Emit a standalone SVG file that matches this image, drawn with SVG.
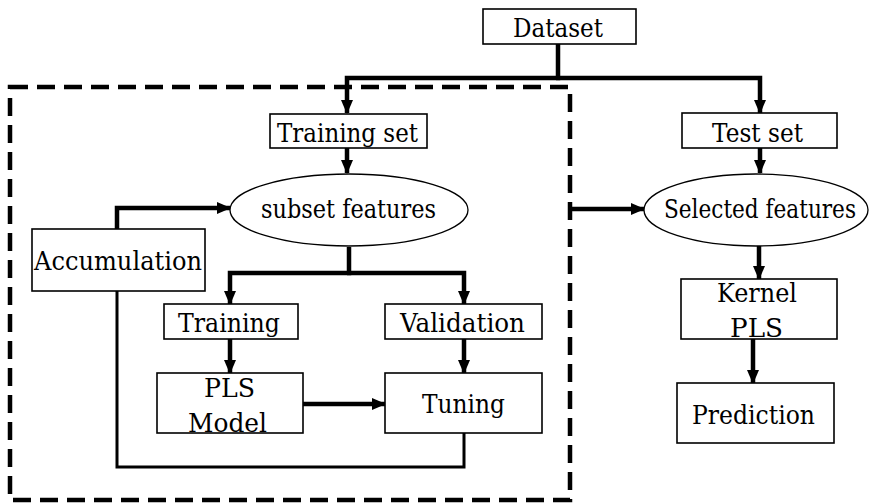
<svg xmlns="http://www.w3.org/2000/svg" width="880" height="504" viewBox="0 0 880 504">
<defs>
<marker id="ah" markerUnits="userSpaceOnUse" markerWidth="14" markerHeight="14" viewBox="0 0 14 14" refX="13" refY="7" orient="auto">
<path d="M0,1 L14,7 L0,13 z" fill="#000"/>
</marker>
<style>
.box{fill:#fff;stroke:#000;stroke-width:1.6}
.ell{fill:#fff;stroke:#000;stroke-width:1.3}
.t{font-size:26px;fill:#000}
.ca{fill:none;stroke:#000;stroke-width:4.5;marker-end:url(#ah)}
.loop{fill:none;stroke:#000;stroke-width:3}
.dash{fill:none;stroke:#000;stroke-width:4.5;stroke-dasharray:18 9}
</style>
</defs>
<rect width="880" height="504" fill="#fff"/>

<rect id="region" class="dash" x="10" y="87" width="560" height="413"/>

<g id="connectors">
<path class="ca" d="M558,44 V78 H347 V113"/>
<path class="ca" d="M556,78 H760 V113"/>
<path class="ca" d="M347,148 V173"/>
<path class="ca" d="M760,148 V173"/>
<path class="ca" d="M572,209 H644"/>
<path class="ca" d="M759,245 V279"/>
<path class="ca" d="M753,339 V383"/>
<path class="ca" d="M349,247 V273 H230 V304"/>
<path class="ca" d="M347,273 H464 V304"/>
<path class="ca" d="M230,339 V373"/>
<path class="ca" d="M464,339 V373"/>
<path class="ca" d="M303,404 H385"/>
<path class="loop" d="M464,433 V467 H117 V291"/>
<path class="ca" d="M117,229 V208 H230"/>
</g>

<g font-family="'DejaVu Serif', 'Liberation Serif', serif">
<g id="dataset"><rect class="box" x="483" y="9" width="153" height="35"/><text class="t" x="513" y="37" textLength="90" lengthAdjust="spacingAndGlyphs">Dataset</text></g>
<g id="training-set"><rect class="box" x="270" y="114" width="157" height="34"/><text class="t" x="277" y="142" textLength="141" lengthAdjust="spacingAndGlyphs">Training set</text></g>
<g id="test-set"><rect class="box" x="682" y="113" width="155" height="35"/><text class="t" x="712" y="142" textLength="91" lengthAdjust="spacingAndGlyphs">Test set</text></g>
<g id="subset-features"><ellipse class="ell" cx="349" cy="210" rx="119" ry="36"/><text class="t" x="261" y="218" textLength="175" lengthAdjust="spacingAndGlyphs">subset features</text></g>
<g id="selected-features"><ellipse class="ell" cx="756" cy="210" rx="112" ry="36"/><text class="t" x="664" y="218" font-size="25" textLength="192" lengthAdjust="spacingAndGlyphs">Selected features</text></g>
<g id="accumulation"><rect class="box" x="32" y="229" width="173" height="62"/><text class="t" x="34" y="270" textLength="168" lengthAdjust="spacingAndGlyphs">Accumulation</text></g>
<g id="training"><rect class="box" x="164" y="304" width="134" height="35"/><text class="t" x="178" y="332" textLength="102" lengthAdjust="spacingAndGlyphs">Training</text></g>
<g id="validation"><rect class="box" x="385" y="304" width="157" height="35"/><text class="t" x="400" y="332" textLength="125" lengthAdjust="spacingAndGlyphs">Validation</text></g>
<g id="pls-model"><rect class="box" x="157" y="373" width="146" height="60"/><text class="t" x="204" y="397" textLength="51" lengthAdjust="spacingAndGlyphs">PLS</text><text class="t" x="188" y="432" textLength="79" lengthAdjust="spacingAndGlyphs">Model</text></g>
<g id="tuning"><rect class="box" x="385" y="373" width="157" height="60"/><text class="t" x="422" y="413" textLength="83" lengthAdjust="spacingAndGlyphs">Tuning</text></g>
<g id="kernel-pls"><rect class="box" x="681" y="279" width="156" height="60"/><text class="t" x="717" y="302" textLength="80" lengthAdjust="spacingAndGlyphs">Kernel</text><text class="t" x="730" y="337" textLength="53" lengthAdjust="spacingAndGlyphs">PLS</text></g>
<g id="prediction"><rect class="box" x="677" y="383" width="157" height="60"/><text class="t" x="692" y="424" textLength="123" lengthAdjust="spacingAndGlyphs">Prediction</text></g>
</g>
</svg>
